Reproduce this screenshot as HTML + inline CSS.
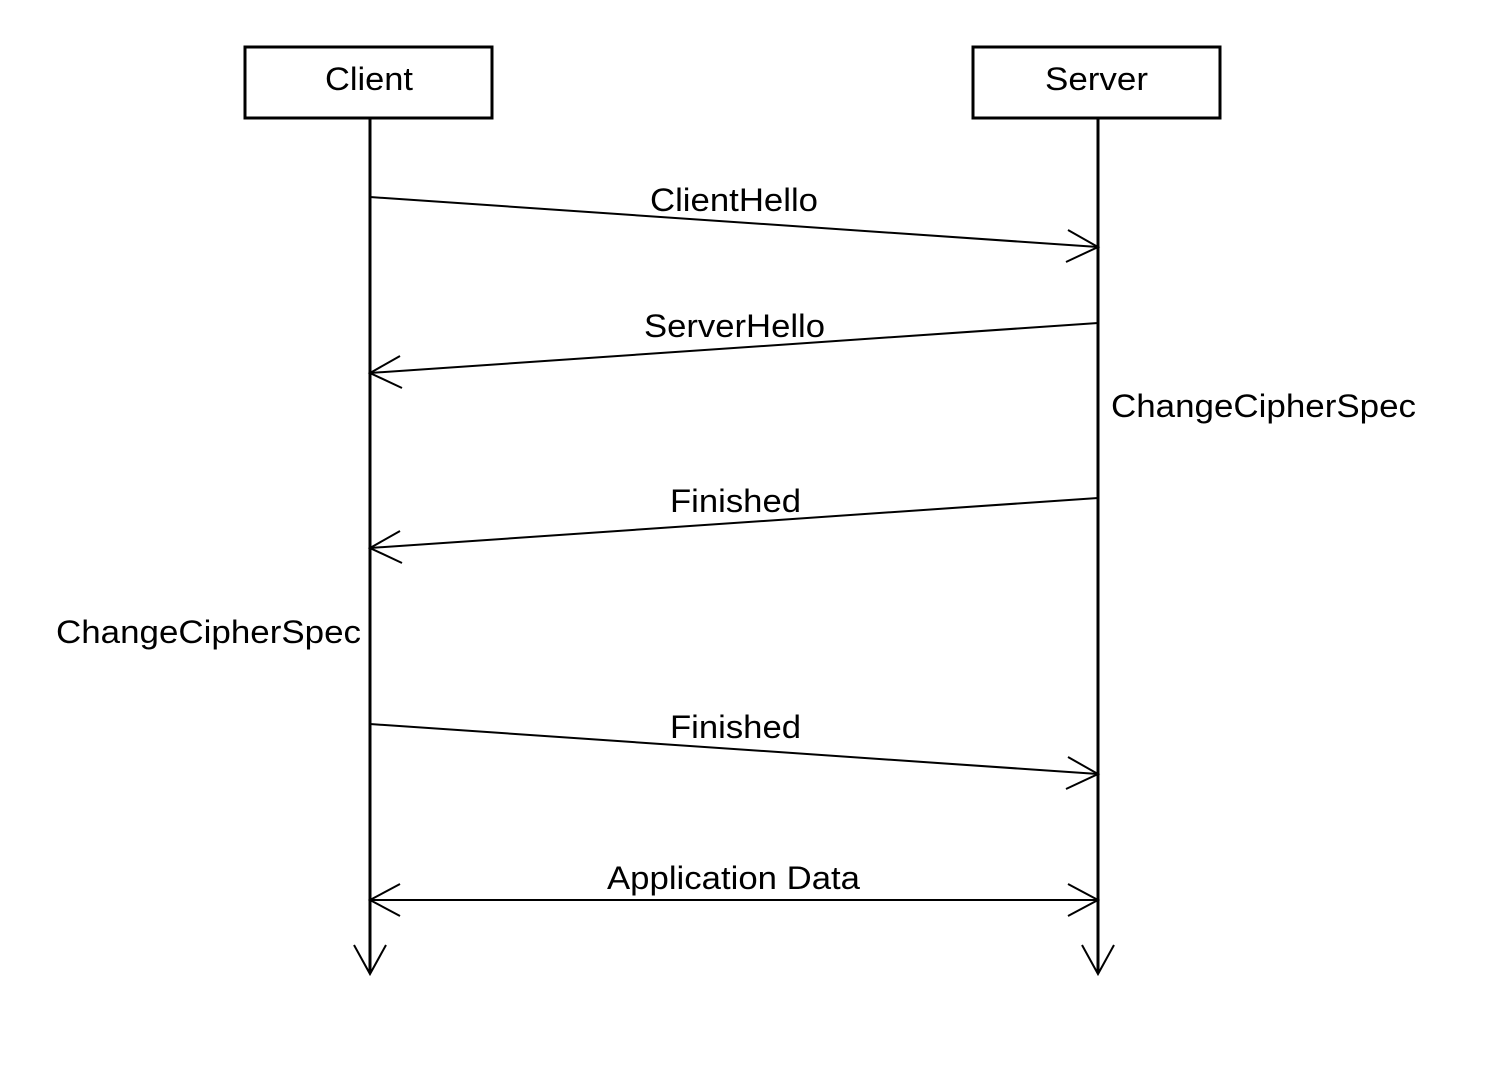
<!DOCTYPE html>
<html><head><style>body{margin:0;background:#fff}</style></head><body>
<svg width="1490" height="1070" xmlns="http://www.w3.org/2000/svg" style="display:block;font-family:'Liberation Sans',Arial,sans-serif">
<rect width="1490" height="1070" fill="#fff"/>
<g fill="none" stroke="#000">
<rect x="245" y="47" width="247" height="71" stroke-width="3"/>
<rect x="973" y="47" width="247" height="71" stroke-width="3"/>
<line x1="370" y1="118" x2="370" y2="973" stroke-width="3"/>
<line x1="1098" y1="118" x2="1098" y2="973" stroke-width="3"/>
<polyline points="354,945 370,974 386,945" stroke-width="2"/>
<polyline points="1082,945 1098,974 1114,945" stroke-width="2"/>
<g stroke-width="2">
<line x1="370" y1="197" x2="1098" y2="247"/>
<polyline points="1068,230 1098,247 1066,262"/>
<line x1="1098" y1="323" x2="370" y2="373"/>
<polyline points="400,356 370,373 402,388"/>
<line x1="1098" y1="498" x2="370" y2="548"/>
<polyline points="400,531 370,548 402,563"/>
<line x1="370" y1="724" x2="1098" y2="774"/>
<polyline points="1068,757 1098,774 1066,789"/>
<line x1="370" y1="900" x2="1098" y2="900"/>
<polyline points="400,884 370,900 400,916"/>
<polyline points="1068,884 1098,900 1068,916"/>
</g>
</g>
<g font-size="32" fill="#000" lengthAdjust="spacingAndGlyphs">
<text x="325" y="90" textLength="88" lengthAdjust="spacingAndGlyphs">Client</text>
<text x="1045" y="90" textLength="103" lengthAdjust="spacingAndGlyphs">Server</text>
<text x="650" y="211" textLength="168" lengthAdjust="spacingAndGlyphs">ClientHello</text>
<text x="644" y="337" textLength="181" lengthAdjust="spacingAndGlyphs">ServerHello</text>
<text x="670" y="512" textLength="131" lengthAdjust="spacingAndGlyphs">Finished</text>
<text x="670" y="738" textLength="131" lengthAdjust="spacingAndGlyphs">Finished</text>
<text x="607" y="889" textLength="253" lengthAdjust="spacingAndGlyphs">Application Data</text>
<text x="1111" y="417" textLength="305" lengthAdjust="spacingAndGlyphs">ChangeCipherSpec</text>
<text x="56" y="643" textLength="305" lengthAdjust="spacingAndGlyphs">ChangeCipherSpec</text>
</g>
</svg>
</body></html>
